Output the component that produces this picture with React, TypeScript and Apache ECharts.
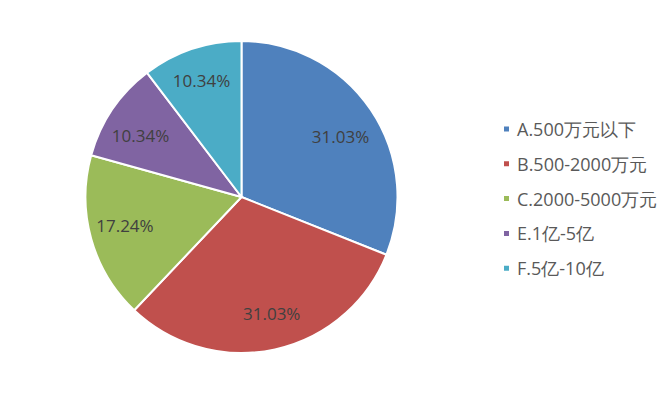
import React, { useEffect, useRef } from "react";
import * as echarts from "echarts";

const categories = ["A.500万元以下", "B.500-2000万元", "C.2000-5000万元", "E.1亿-5亿", "F.5亿-10亿"];
const values = [31.03, 31.03, 17.24, 10.34, 10.34];
const colors = ["#4F81BD", "#C0504D", "#9BBB59", "#8064A2", "#4BACC6"];
// small label nudges to mimic the reference placement
const labelOffsets = [[-2, 8], [4, -3], [1, -4], [0, 7], [-1, -1]];

export default function App() {
  const ref = useRef<HTMLDivElement>(null);
  useEffect(() => {
    document.body.style.margin = "0";
    const chart = echarts.init(ref.current!, null, { renderer: "svg" });
    const data = categories.map((name, i) => ({ name, value: values[i] }));
    const labelData = categories.map((name, i) => ({
      name,
      value: values[i],
      label: { offset: labelOffsets[i] },
    }));
    chart.setOption({
      animation: false,
      backgroundColor: "#ffffff",
      color: colors,
      legend: {
        orient: "vertical",
        left: 497,
        top: 115,
        icon: "rect",
        itemWidth: 7,
        itemHeight: 7,
        itemGap: 16.8,
        data: categories,
        textStyle: {
          fontFamily: "Open Sans",
          fontSize: 18,
          color: "#595959",
          lineHeight: 18,
          padding: [0, 0, 0, 2],
        },
      },
      series: [
        {
          type: "pie",
          center: [241.5, 197],
          radius: [0, 156],
          startAngle: 90,
          clockwise: true,
          data,
          label: { show: false },
          labelLine: { show: false },
          itemStyle: { borderColor: "#ffffff", borderWidth: 2 },
          emphasis: { disabled: true },
        },
        {
          type: "pie",
          center: [241.5, 197],
          radius: [82, 156],
          startAngle: 90,
          clockwise: true,
          silent: true,
          data: labelData,
          itemStyle: { color: "rgba(0,0,0,0)" },
          label: {
            show: true,
            position: "inside",
            formatter: (p: any) => p.value.toFixed(2) + "%",
            fontFamily: "Open Sans",
            fontSize: 17,
            color: "#404040",
          },
          labelLine: { show: false },
          emphasis: { disabled: true },
        },
      ],
    });
    return () => chart.dispose();
  }, []);
  return <div ref={ref} style={{ width: 667, height: 397 }} />;
}
